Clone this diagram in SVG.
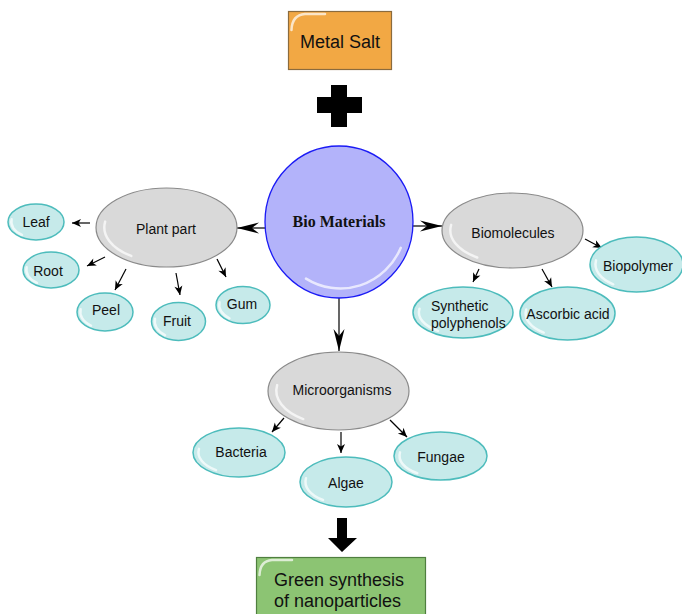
<svg xmlns="http://www.w3.org/2000/svg" width="682" height="614" viewBox="0 0 682 614">
<style>
.txt{font-family:"Liberation Sans",Arial,sans-serif;font-size:14px;fill:#111;text-anchor:middle}
.lt{text-anchor:start}
.big{font-family:"Liberation Sans",Arial,sans-serif;font-size:18px;fill:#111}
.gray{fill:#d9d9d9;stroke:#8a8a8a;stroke-width:1.2}
.cyan{fill:#c6eaea;stroke:#4dbcbc;stroke-width:1.5}
.hl{fill:none;stroke:#fff;stroke-width:2.5;stroke-opacity:0.7;stroke-linecap:round}
.con{stroke:#000;stroke-width:1.2;fill:none}
</style>
<defs>
<marker id="bigHead" markerUnits="userSpaceOnUse" markerWidth="26" markerHeight="14" viewBox="-24 -7 26 14" refX="0" refY="0" orient="auto">
<path d="M0,0 L-22,-5.5 L-15,0 L-22,5.5 Z" fill="#000"/>
</marker>
<marker id="smallHead" markerUnits="userSpaceOnUse" markerWidth="12" markerHeight="10" viewBox="-11 -5 12 10" refX="0" refY="0" orient="auto">
<path d="M0,0 L-9,-4 L-6.5,0 L-9,4 Z" fill="#000"/>
</marker>
<path id="hlp" d="M-0.87,-0.15 A0.88,0.88 0 0 0 -0.5,0.72" vector-effect="non-scaling-stroke"/>
</defs>

<g id="metal-salt">
<rect x="288.5" y="11.5" width="103" height="58" fill="#f2a844" stroke="#8b6b3d" stroke-width="1.2"/>
<path d="M291.5,30 Q292,15 305,14 L325,14" class="hl" stroke-width="1.5" stroke-opacity="0.35"/>
<text x="340" y="48" class="big" text-anchor="middle">Metal Salt</text>
</g>

<g id="plus">
<rect x="331" y="85" width="16" height="42" fill="#000"/>
<rect x="317" y="97" width="45" height="16" fill="#000"/>
</g>

<g id="connectors">
<line x1="265" y1="228" x2="237" y2="228" class="con" marker-end="url(#bigHead)"/>
<line x1="412" y1="226" x2="442" y2="226" class="con" marker-end="url(#bigHead)"/>
<line x1="339" y1="297" x2="339" y2="351" class="con" marker-end="url(#bigHead)"/>
<line x1="90" y1="223" x2="72" y2="223" class="con" marker-end="url(#smallHead)"/>
<line x1="105" y1="257" x2="87" y2="266" class="con" marker-end="url(#smallHead)"/>
<line x1="126" y1="269" x2="115" y2="290" class="con" marker-end="url(#smallHead)"/>
<line x1="176" y1="273" x2="180" y2="295" class="con" marker-end="url(#smallHead)"/>
<line x1="217" y1="259" x2="226" y2="277" class="con" marker-end="url(#smallHead)"/>
<line x1="585" y1="239" x2="602" y2="248" class="con" marker-end="url(#smallHead)"/>
<line x1="479" y1="269" x2="473" y2="282" class="con" marker-end="url(#smallHead)"/>
<line x1="542" y1="269" x2="552" y2="287" class="con" marker-end="url(#smallHead)"/>
<line x1="284" y1="418" x2="272" y2="432" class="con" marker-end="url(#smallHead)"/>
<line x1="341" y1="432" x2="341" y2="453" class="con" marker-end="url(#smallHead)"/>
<line x1="390" y1="420" x2="407" y2="437" class="con" marker-end="url(#smallHead)"/>
</g>

<g id="bio-materials">
<ellipse cx="339" cy="222" rx="74" ry="76" fill="#b3b3fa" stroke="#1a1af5" stroke-width="1.3"/>
<path d="M306,278.6 A66,68 0 0 0 400.8,247.8" class="hl" stroke-opacity="0.45"/>
<text x="339" y="227" font-family="'Liberation Serif','Times New Roman',serif" font-size="16" font-weight="bold" fill="#111" text-anchor="middle">Bio Materials</text>
</g>

<g id="plant-part">
<ellipse cx="166.5" cy="227.5" rx="70.5" ry="39.5" class="gray"/>
<use href="#hlp" class="hl" transform="translate(166.5,227.5) scale(70.5,39.5)"/>
<text x="166" y="234" class="txt">Plant part</text>
</g>

<g id="leaf">
<ellipse cx="36" cy="222" rx="28" ry="18" class="cyan"/>
<use href="#hlp" class="hl" transform="translate(36,222) scale(28,18)"/>
<text x="36" y="227" class="txt">Leaf</text>
</g>

<g id="root">
<ellipse cx="51" cy="270" rx="28" ry="18" class="cyan"/>
<use href="#hlp" class="hl" transform="translate(51,270) scale(28,18)"/>
<text x="48" y="276" class="txt">Root</text>
</g>

<g id="peel">
<ellipse cx="105" cy="312" rx="28" ry="19" class="cyan"/>
<use href="#hlp" class="hl" transform="translate(105,312) scale(28,19)"/>
<text x="106" y="315" class="txt">Peel</text>
</g>

<g id="fruit">
<ellipse cx="178.5" cy="321.5" rx="27" ry="19" class="cyan"/>
<use href="#hlp" class="hl" transform="translate(178.5,321.5) scale(27,19)"/>
<text x="177" y="326" class="txt">Fruit</text>
</g>

<g id="gum">
<ellipse cx="243" cy="305" rx="27" ry="18.5" class="cyan"/>
<use href="#hlp" class="hl" transform="translate(243,305) scale(27,18.5)"/>
<text x="242" y="309" class="txt">Gum</text>
</g>

<g id="biomolecules">
<ellipse cx="512.5" cy="230.5" rx="70.5" ry="37.5" class="gray"/>
<use href="#hlp" class="hl" transform="translate(512.5,230.5) scale(70.5,37.5)"/>
<text x="513" y="238" class="txt">Biomolecules</text>
</g>

<g id="biopolymer">
<ellipse cx="636.5" cy="264.5" rx="46.5" ry="27.5" class="cyan"/>
<use href="#hlp" class="hl" transform="translate(636.5,264.5) scale(46.5,27.5)"/>
<text x="638" y="271" class="txt">Biopolymer</text>
</g>

<g id="synthetic-polyphenols">
<ellipse cx="463" cy="312.5" rx="50" ry="25.5" class="cyan"/>
<use href="#hlp" class="hl" transform="translate(463,312.5) scale(50,25.5)"/>
<text x="431" y="311" class="txt lt">Synthetic</text>
<text x="431" y="328" class="txt lt">polyphenols</text>
</g>

<g id="ascorbic-acid">
<ellipse cx="567.5" cy="313.5" rx="47.5" ry="26.5" class="cyan"/>
<use href="#hlp" class="hl" transform="translate(567.5,313.5) scale(47.5,26.5)"/>
<text x="568" y="319" class="txt">Ascorbic acid</text>
</g>

<g id="microorganisms">
<ellipse cx="338.5" cy="391" rx="70.5" ry="39" class="gray"/>
<use href="#hlp" class="hl" transform="translate(338.5,391) scale(70.5,39)"/>
<text x="342" y="395" class="txt">Microorganisms</text>
</g>

<g id="bacteria">
<ellipse cx="239" cy="452.5" rx="46" ry="24.5" class="cyan"/>
<use href="#hlp" class="hl" transform="translate(239,452.5) scale(46,24.5)"/>
<text x="241" y="457" class="txt">Bacteria</text>
</g>

<g id="algae">
<ellipse cx="346" cy="482" rx="46" ry="25" class="cyan"/>
<use href="#hlp" class="hl" transform="translate(346,482) scale(46,25)"/>
<text x="346" y="488" class="txt">Algae</text>
</g>

<g id="fungae">
<ellipse cx="440.5" cy="456" rx="46.5" ry="24" class="cyan"/>
<use href="#hlp" class="hl" transform="translate(440.5,456) scale(46.5,24)"/>
<text x="441" y="462" class="txt">Fungae</text>
</g>

<g id="down-arrow">
<path d="M337,518 L347,518 L347,538 L357,538 L342,552 L328,538 L337,538 Z" fill="#000"/>
</g>

<g id="green-synthesis">
<rect x="256.5" y="557.5" width="169" height="62" fill="#8cc473" stroke="#4f7f3f" stroke-width="1.2"/>
<path d="M259.5,575 Q260,561 272,560 L292,560" class="hl" stroke-width="1.5" stroke-opacity="0.35"/>
<text x="274" y="586" class="big">Green synthesis</text>
<text x="274" y="607" class="big">of nanoparticles</text>
</g>
</svg>
